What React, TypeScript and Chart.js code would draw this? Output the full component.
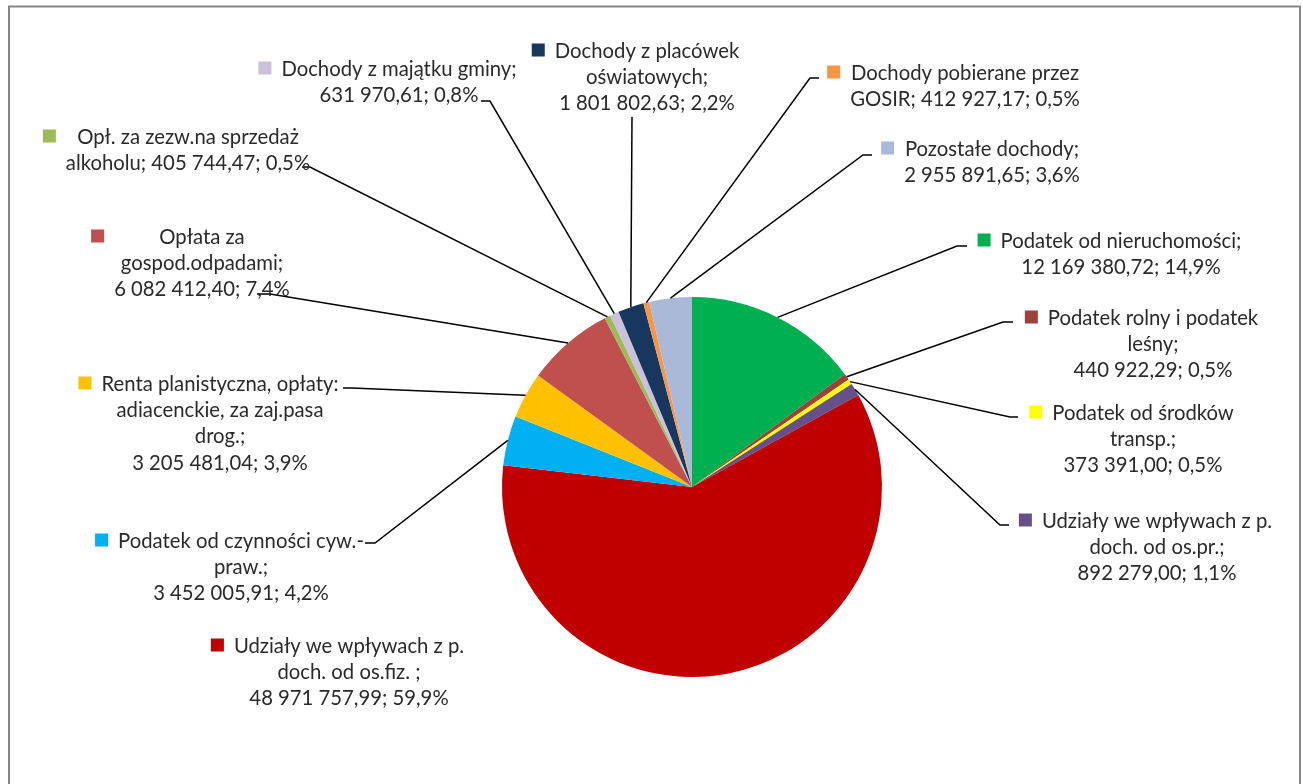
import { useEffect, useRef } from "react";
import { Chart, registerables } from "chart.js";

Chart.register(...registerables);

// ---------- data ----------
const categories = [
  "Podatek od nieruchomości",
  "Podatek rolny i podatek leśny",
  "Podatek od środków transp.",
  "Udziały we wpływach z p. doch. od os.pr.",
  "Udziały we wpływach z p. doch. od os.fiz.",
  "Podatek od czynności cyw.-praw.",
  "Renta planistyczna, opłaty: adiacenckie, za zaj.pasa drog.",
  "Opłata za gospod.odpadami",
  "Opł. za zezw.na sprzedaż alkoholu",
  "Dochody z majątku gminy",
  "Dochody z placówek oświatowych",
  "Dochody pobierane przez GOSIR",
  "Pozostałe dochody",
];

const values = [
  12169380.72, 440922.29, 373391.0, 892279.0, 48971757.99, 3452005.91,
  3205481.04, 6082412.4, 405744.47, 631970.61, 1801802.63, 412927.17,
  2955891.65,
];

const colors = [
  "#00B050", "#A0403D", "#FFFF00", "#665089", "#C00000", "#00B0F0",
  "#FFC000", "#C0504D", "#9BBB59", "#CCC1DA", "#17375E", "#F79646",
  "#AAB9D7",
];

const labelLines = [
  ["Podatek od nieruchomości;", "12 169 380,72; 14,9%"],
  ["Podatek rolny i podatek", "leśny;", "440 922,29; 0,5%"],
  ["Podatek od środków", "transp.;", "373 391,00; 0,5%"],
  ["Udziały we wpływach z p.", "doch. od os.pr.;", "892 279,00; 1,1%"],
  ["Udziały we wpływach z p.", "doch. od os.fiz. ;", "48 971 757,99; 59,9%"],
  ["Podatek od czynności cyw.-", "praw.;", "3 452 005,91; 4,2%"],
  ["Renta planistyczna, opłaty:", "adiacenckie, za zaj.pasa", "drog.;", "3 205 481,04; 3,9%"],
  ["Opłata za", "gospod.odpadami;", "6 082 412,40; 7,4%"],
  ["Opł. za zezw.na sprzedaż", "alkoholu; 405 744,47; 0,5%"],
  ["Dochody z majątku gminy;", "631 970,61; 0,8%"],
  ["Dochody z placówek", "oświatowych;", "1 801 802,63; 2,2%"],
  ["Dochody pobierane przez", "GOSIR; 412 927,17; 0,5%"],
  ["Pozostałe dochody;", "2 955 891,65; 3,6%"],
];

// ---------- layout (label placement, not data) ----------
const labelCenters: [number, number][] = [
  [1121, 240], [1153, 317], [1143, 412], [1157, 520], [349, 645],
  [241, 540], [220, 383], [202, 236], [188, 136], [399, 68],
  [647, 50], [965, 72], [992, 148],
];

const leaderPaths: ([number, number][] | null)[] = [
  [[957, 246], [967, 246]],
  [[1003, 322], [1013, 322]],
  [[1010, 417], [1018, 417]],
  [[1000, 525], [1009, 525]],
  null,
  [[375, 543], [365, 543]],
  [[352, 388], [343, 388]],
  [[270, 294], [257, 294]],
  [[310, 167], [302, 167]],
  [[490, 101], [481, 101]],
  [[632, 117]],
  [[810, 78], [819, 78]],
  [[863, 155], [872, 155]],
];

const FONT = "20.3px Lato";
const LINE_H = 26.4;
const TEXT_COLOR = "#2a2a2a";

const framePlugin = {
  id: "frame",
  beforeDraw(chart: any) {
    const ctx = chart.ctx;
    ctx.save();
    ctx.fillStyle = "#ffffff";
    ctx.fillRect(0, 0, chart.width, chart.height);
    ctx.strokeStyle = "#868686";
    ctx.lineWidth = 2;
    ctx.strokeRect(9, 6.5, 1291, 820);
    ctx.restore();
  },
};

const labelPlugin = {
  id: "extLabels",
  afterDraw(chart: any) {
    const ctx = chart.ctx;
    const meta = chart.getDatasetMeta(0);
    ctx.save();
    // leader lines
    ctx.strokeStyle = "#000000";
    ctx.lineWidth = 1.5;
    meta.data.forEach((arc: any, i: number) => {
      const path = leaderPaths[i];
      if (!path) return;
      const mid = (arc.startAngle + arc.endAngle) / 2;
      const sx = arc.x + Math.cos(mid) * arc.outerRadius;
      const sy = arc.y + Math.sin(mid) * arc.outerRadius;
      ctx.beginPath();
      ctx.moveTo(sx, sy);
      path.forEach(([px, py]) => ctx.lineTo(px, py));
      ctx.stroke();
    });
    // labels
    ctx.font = FONT;
    ctx.textBaseline = "middle";
    ctx.textAlign = "center";
    labelLines.forEach((lines, i) => {
      const [cx, y0] = labelCenters[i];
      let maxW = 0;
      lines.forEach((l) => {
        maxW = Math.max(maxW, ctx.measureText(l).width);
      });
      ctx.fillStyle = colors[i];
      ctx.fillRect(cx - maxW / 2 - 10 - 13, y0 - 6.5, 13, 13);
      ctx.fillStyle = TEXT_COLOR;
      lines.forEach((l, k) => {
        ctx.fillText(l, cx, y0 + k * LINE_H + 1);
      });
    });
    ctx.restore();
  },
};

export default function App() {
  const ref = useRef<HTMLCanvasElement | null>(null);
  useEffect(() => {
    if (!ref.current) return;
    const chart = new Chart(ref.current, {
      type: "pie",
      data: {
        labels: categories,
        datasets: [
          {
            data: values,
            backgroundColor: colors,
            borderWidth: 0,
          },
        ],
      },
      options: {
        responsive: false,
        animation: false,
        events: [],
        layout: { padding: { left: 502, right: 421, top: 297, bottom: 107 } },
        plugins: {
          legend: { display: false },
          tooltip: { enabled: false },
          title: { display: false },
        },
      },
      plugins: [framePlugin, labelPlugin],
    });
    return () => chart.destroy();
  }, []);
  return (
    <div style={{ position: "fixed", left: 0, top: 0, width: 1303, height: 784, background: "#fff" }}>
      <canvas ref={ref} width={1303} height={784} style={{ display: "block" }} />
    </div>
  );
}
